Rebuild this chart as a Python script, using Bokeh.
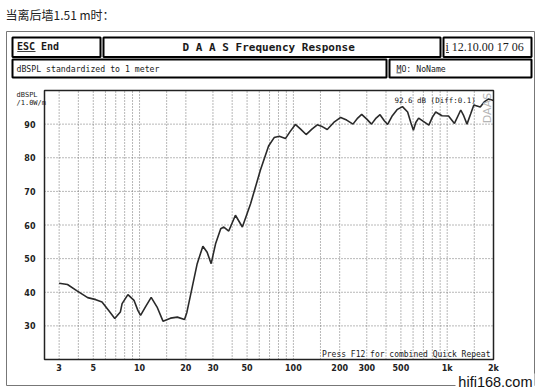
import math
from bokeh.plotting import figure
from bokeh.models import Range1d, LinearScale, ColumnDataSource
from bokeh.core.properties import value
from bokeh.embed import file_html
from bokeh.resources import INLINE

# ---------------- data ----------------
freq = [3.0, 3.4, 3.9, 4.6, 5.2, 5.7, 6.3, 6.9, 7.5, 7.7, 8.4, 9.2, 9.75, 10.15,
        10.9, 11.9, 13.0, 14.2, 15.9, 17.6, 19.6, 20.3, 22, 23.7, 25.8, 27.5,
        29.2, 31.2, 33.7, 35.3, 38, 42, 46.6, 52.7, 61, 69, 75, 81, 88.8, 94.9,
        103, 111, 121, 132, 143, 155, 166, 183, 203, 222, 244, 262, 278, 300,
        322, 345, 366, 390, 410, 440, 472, 512, 553, 580, 603, 625, 652, 700,
        760, 800, 842, 925, 1020, 1115, 1225, 1280, 1345, 1420, 1490, 1640,
        1740, 1860, 2000]
spl = [42.7, 42.3, 40.5, 38.4, 37.8, 37.1, 34.6, 32.2, 34.1, 36.6, 39.3, 37.6,
       34.6, 33.1, 35.6, 38.5, 35.6, 31.4, 32.3, 32.6, 31.9, 34.0, 41.5, 48.5,
       53.7, 51.9, 48.5, 54.4, 58.9, 59.4, 58.2, 62.9, 59.4, 66.3, 76.3, 83.5,
       86.0, 86.4, 85.7, 87.7, 89.9, 88.6, 86.9, 88.5, 89.8, 89.2, 88.4, 90.5,
       92.0, 91.2, 90.0, 91.8, 92.9, 91.5, 90.0, 91.8, 92.8, 91.0, 89.9, 92.5,
       94.3, 95.2, 93.6, 90.5, 88.2, 90.5, 91.8, 90.8, 89.7, 92.0, 93.6, 92.5,
       92.4, 90.2, 94.2, 92.5, 90.0, 93.0, 95.7, 95.1, 96.6, 97.5, 97.0]

freq_range = [2.41, 2000]
spl_range = [20, 100]
x_tick_values = [3, 5, 10, 20, 30, 50, 100, 200, 300, 500, 1000, 2000]
x_tick_labels = ["3", "5", "10", "20", "30", "50", "100", "200", "300", "500", "1k", "2k"]
x_grid_values = [3, 4, 5, 6, 7, 8, 9, 10, 15, 20, 30, 40, 50, 60, 70, 80, 90,
                 100, 150, 200, 300, 400, 500, 600, 700, 800, 900, 1000, 1500]
y_tick_values = [30, 40, 50, 60, 70, 80, 90]
y_tick_labels = ["30", "40", "50", "60", "70", "80", "90"]

page_title = "当离后墙1.51 m时："
header_left = "ESC  End"
header_title = "D A A S  Frequency Response"
header_date = "i 12.10.00 17 06"
sub_left = "dBSPL standardized to 1 meter"
sub_right = "MO:  NoName"
y_label_1 = "dBSPL"
y_label_2 = "/1.0W/m"
readout = "92.6 dB (Diff:0.1)"
footer = "Press F12 for combined Quick Repeat"
brand = "DAAS"
watermark = "hifi168.com"

# ---------------- layout ----------------
W, H = 539, 391
PL, PR, PT, PB = 44, 493, 90, 359          # plot area on the canvas (px)
F0, F1 = freq_range
D0, D1 = spl_range
kx = (PR - PL) / (math.log10(F1) - math.log10(F0))
x_start = 10 ** (math.log10(F0) - PL / kx)
x_end = 10 ** (math.log10(F1) + (W - PR) / kx)
ky = (PB - PT) / (D1 - D0)
y_start = D0 - (H - PB) / ky
y_end = D1 + PT / ky

p = figure(width=W, height=H, x_axis_type="log",
           x_range=Range1d(x_start, x_end), y_range=Range1d(y_start, y_end),
           x_axis_location=None, y_axis_location=None, title_location=None,
           min_border=0, output_backend="svg", toolbar_location=None)
p.outline_line_color = None
p.background_fill_color = "white"
p.border_fill_color = "white"
p.xgrid.visible = False
p.ygrid.visible = False
p.extra_x_ranges = {"px": Range1d(0, W)}
p.extra_y_ranges = {"py": Range1d(H, 0)}
p.extra_x_scales = {"px": LinearScale()}
p.extra_y_scales = {"py": LinearScale()}

PX = dict(x_range_name="px", y_range_name="py")


def box(x0, y0, x1, y1, lw=2.0, color="black", fill=None):
    p.quad(left=[x0], right=[x1], top=[y0], bottom=[y1],
           fill_color=fill if fill else "white", fill_alpha=1.0 if fill else 0.0,
           line_color=color, line_width=lw, line_alpha=1.0 if lw > 0 else 0.0, **PX)


def ptext(cx, cy, s, font="DejaVu Sans Mono", size="8px", style="normal",
          align="left", baseline="middle", color="#1a1a1a", angle=0.0):
    p.text(x=[cx], y=[cy], text=[s], angle=angle,
           text_font=value(font), text_font_size=value(size),
           text_font_style=value(style), text_align=value(align),
           text_baseline=value(baseline), text_color=value(color), **PX)


# outer frame and header boxes
box(6, 31, 534, 385, lw=1, color="#777777")
box(12, 37, 100, 56.5)
box(103, 37, 440, 56.5)
box(443, 37, 531, 56.5)
box(12, 59, 386, 77)
box(389, 59, 531, 77)
# small underlines
box(16.7, 50.5, 35, 51.2, lw=0, fill="black")
box(445.5, 51.5, 448.5, 52.2, lw=0, fill="black")
box(396, 72, 401, 72.7, lw=0, fill="black")

# ---------------- chart (data coordinates) ----------------
grid_style = dict(line_color="#707070", line_dash="1 2", line_width=1)
p.segment(x0=x_grid_values, y0=[D0] * len(x_grid_values),
          x1=x_grid_values, y1=[D1] * len(x_grid_values), **grid_style)
p.segment(x0=[F0] * len(y_tick_values), y0=y_tick_values,
          x1=[F1] * len(y_tick_values), y1=y_tick_values, **grid_style)

src = ColumnDataSource(dict(f=freq, db=spl))
p.line("f", "db", source=src, line_color="#2a2a2a", line_width=1.6)

p.quad(left=[F0], right=[F1], bottom=[D0], top=[D1], fill_alpha=0,
       line_color="#222222", line_width=1.5)

p.text(x=x_tick_values, y=[D0] * len(x_tick_values), text=x_tick_labels,
       y_offset=4, text_align="center", text_baseline="top",
       text_font=value("DejaVu Sans"), text_font_size=value("8px"),
       text_font_style="bold", text_color="#222222")
p.text(x=[F0] * len(y_tick_values), y=y_tick_values, text=y_tick_labels,
       x_offset=-9, text_align="right", text_baseline="middle",
       text_font=value("DejaVu Sans"), text_font_size=value("8px"),
       text_font_style="bold", text_color="#222222")

# ---------------- texts ----------------
ptext(5, 14, page_title, font="Noto Sans CJK SC", size="12px", color="#222222")
ptext(16.5, 46, header_left, size="10px", style="bold")
ptext(271.5, 46.5, header_title, size="11px", style="bold", align="center")
ptext(445, 46.5, header_date, font="Liberation Serif", size="12px")
ptext(16, 68, sub_left, size="8.2px")
ptext(396, 68, sub_right, size="8.2px")
ptext(16, 94, y_label_1, size="7px")
ptext(16, 102.5, y_label_2, size="7px")
ptext(394, 100, readout, size="7.5px")
ptext(490, 354, footer, size="8px", align="right")
ptext(487, 107.5, brand, font="DejaVu Sans", size="11px", align="center",
      color="#b5b5b5", angle=math.pi / 2)

# watermark on a white patch
box(455, 373, 534, 391, lw=0, fill="white")
ptext(532, 381.5, watermark, font="Liberation Sans", size="14.5px", align="right",
      baseline="middle", color="#111111")

open("out.html", "w").write(file_html(p, INLINE))
